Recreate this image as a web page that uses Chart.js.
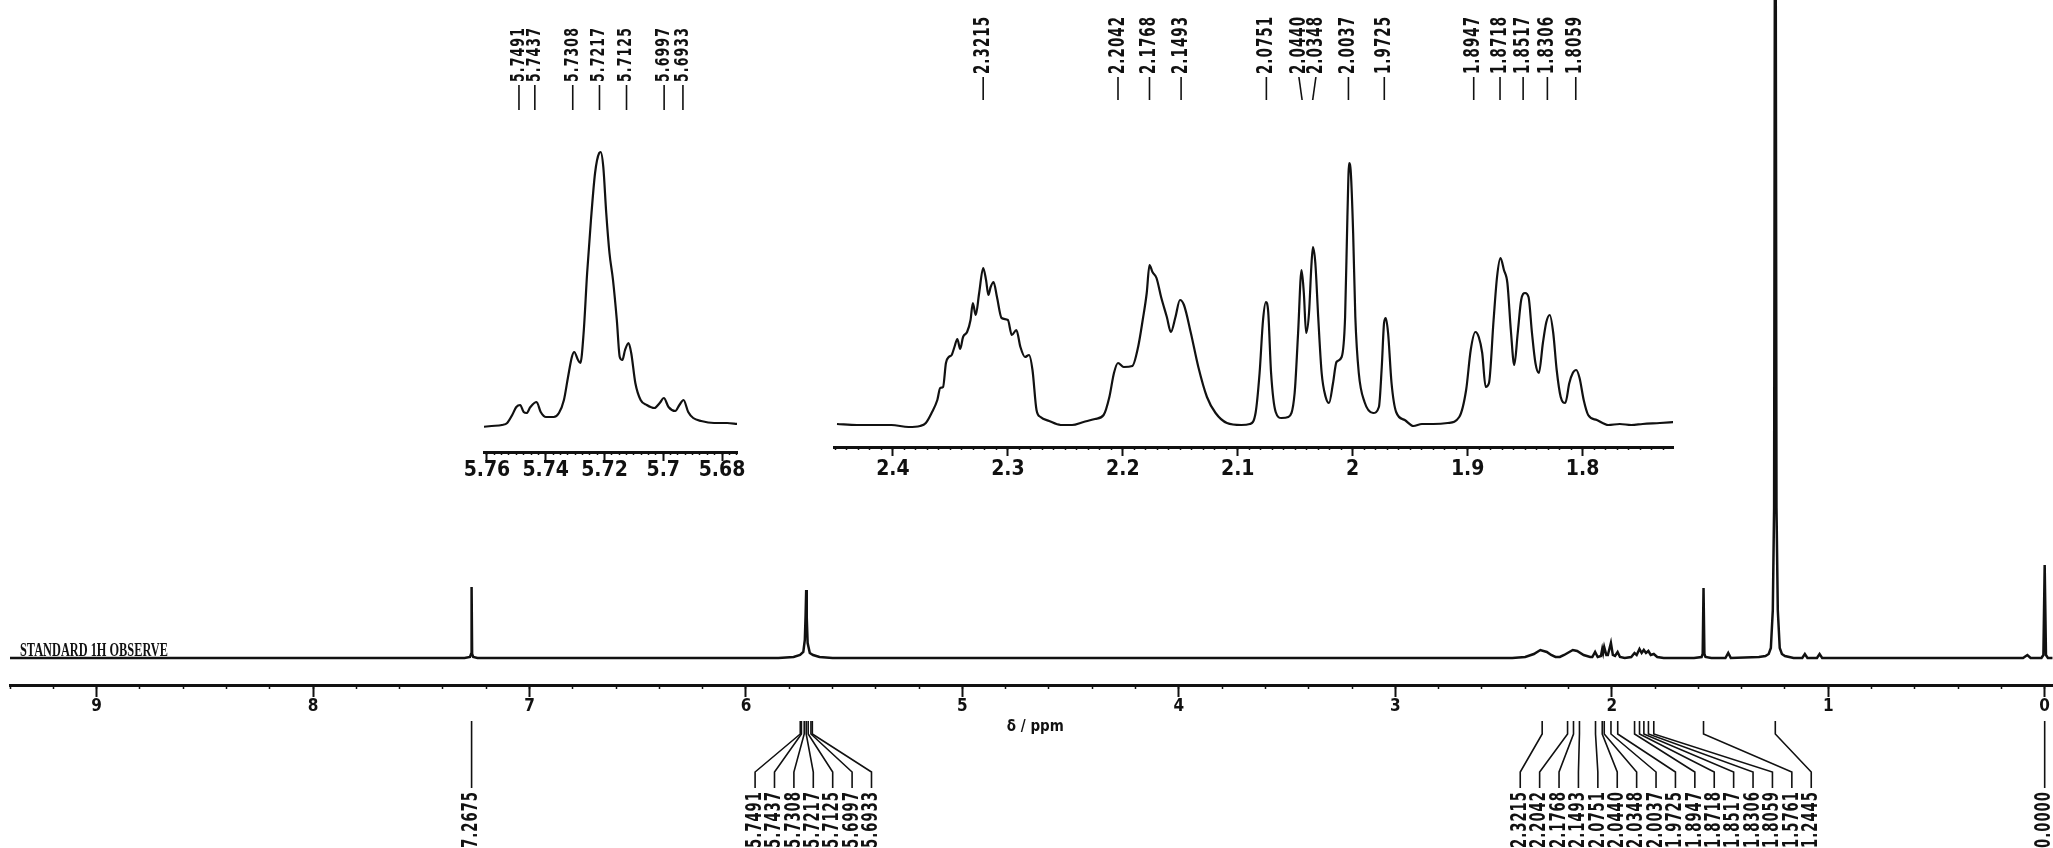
<!DOCTYPE html>
<html>
<head>
<meta charset="utf-8">
<title>1H NMR</title>
<script src="https://cdn.jsdelivr.net/npm/chart.js@4.4.0/dist/chart.umd.min.js"></script>
<style>
  html, body { margin: 0; padding: 0; background: #fff; }
  #page { position: relative; width: 2053px; height: 848px; overflow: hidden; background: #fff; }
  #page canvas { position: absolute; left: 0; top: 0; }
</style>
</head>
<body>
<div id="page">
  <canvas id="mainChart" width="2053" height="848"></canvas>
  <canvas id="vinylChart" width="2053" height="848"></canvas>
  <canvas id="aliphChart" width="2053" height="848"></canvas>
</div>
<script>
var INK = '#111';
var NARROW = "'Liberation Sans Narrow', 'DejaVu Sans Condensed', 'Arial Narrow', sans-serif";

// full spectrum, 9.4 .. 0 ppm (intensity read in pixels above the baseline)
var mainPpm = [9.40, 7.30, 7.275, 7.270, 7.2675, 7.265, 7.260, 7.24,
  5.85, 5.78, 5.75, 5.735, 5.728, 5.7245, 5.7217, 5.719, 5.715, 5.705, 5.69, 5.66, 5.60,
  2.46, 2.40, 2.36, 2.33, 2.30, 2.28, 2.26, 2.24, 2.22, 2.18,
  2.16, 2.13, 2.10, 2.09, 2.077, 2.065, 2.05, 2.044, 2.040, 2.035,
  2.025, 2.018, 2.004, 1.995, 1.985, 1.973, 1.962, 1.94, 1.91, 1.895,
  1.885, 1.872, 1.862, 1.852, 1.842, 1.831, 1.82, 1.806, 1.79, 1.76,
  1.62, 1.585, 1.580, 1.5761, 1.572, 1.567, 1.54,
  1.475, 1.462, 1.45,
  1.32, 1.29, 1.275, 1.265, 1.256, 1.25, 1.2445, 1.239, 1.233, 1.224, 1.214, 1.20, 1.16,
  1.12, 1.108, 1.096, 1.052, 1.040, 1.028,
  0.10, 0.08, 0.065, 0.015, 0.006, 0.000, -0.006, -0.015, -0.037];
var mainIntensity = [0, 0, 1, 4, 71, 4, 1, 0,
  0, 1, 3, 6, 18, 42, 68, 40, 15, 5, 3, 1, 0,
  0, 1, 4, 8, 6, 3, 1, 1, 3, 8,
  7, 3, 1, 1, 6, 1, 2, 9, 5, 11,
  3, 3, 15, 3, 2, 6, 1, 0, 1, 5,
  3, 9, 5, 8, 5, 7, 3, 4, 1, 0,
  0, 1, 4, 70, 4, 1, 0,
  0, 5, 0,
  1, 2, 4, 10, 48, 150, 1000, 150, 48, 10, 4, 2, 0,
  0, 4, 0, 0, 4, 0,
  0, 3, 0, 0, 3, 93, 3, 0, 0];
var mainTickLabels = ['9', '8', '7', '6', '5', '4', '3', '2', '1', '0'];
var mainPeakLabels = ['7.2675', '5.7491', '5.7437', '5.7308', '5.7217', '5.7125', '5.6997', '5.6933',
  '2.3215', '2.2042', '2.1768', '2.1493', '2.0751', '2.0440', '2.0348', '2.0037', '1.9725',
  '1.8947', '1.8718', '1.8517', '1.8306', '1.8059', '1.5761', '1.2445', '0.0000'];

// expansion 5.76 .. 5.68 ppm
var vinylPpm = [5.7619, 5.7584, 5.7549, 5.7531, 5.7514, 5.7500, 5.7487, 5.7475, 5.7465, 5.7452,
  5.7431, 5.7417, 5.7399, 5.7373, 5.7355, 5.7338, 5.7324, 5.7311, 5.7303, 5.7290,
  5.7282, 5.7271, 5.7259, 5.7246, 5.7232, 5.7218, 5.7213, 5.7204, 5.7194, 5.7183,
  5.7171, 5.7158, 5.7148, 5.7139, 5.7130, 5.7118, 5.7109, 5.7095, 5.7077, 5.7056,
  5.7030, 5.7012, 5.6998, 5.6982, 5.6959, 5.6945, 5.6931, 5.6915, 5.6898, 5.6871,
  5.6827, 5.6783, 5.6748];
var vinylIntensity = [-2, -1, 0, 2, 10, 18, 20, 13, 12, 18,
  23, 13, 8, 8, 12, 25, 48, 68, 73, 65,
  62, 92, 152, 205, 252, 272, 273, 258, 212, 172,
  145, 105, 68, 65, 75, 82, 72, 42, 25, 20,
  17, 22, 27, 18, 14, 20, 25, 13, 7, 4,
  2, 2, 1];
var vinylTickLabels = ['5.76', '5.74', '5.72', '5.7', '5.68'];
var vinylPeakLabels = ['5.7491', '5.7437', '5.7308', '5.7217', '5.7125', '5.6997', '5.6933'];

// expansion 2.45 .. 1.72 ppm
var aliphPpm = [2.4487, 2.4313, 2.4163, 2.4013, 2.3864, 2.3764, 2.3714, 2.3664, 2.3614, 2.3589,
  2.3564, 2.3539, 2.3514, 2.3489, 2.3465, 2.3440, 2.3415, 2.3390, 2.3355, 2.3325,
  2.3305, 2.3280, 2.3250, 2.3215, 2.3190, 2.3170, 2.3150, 2.3125, 2.3095, 2.3055,
  2.3000, 2.2966, 2.2926, 2.2891, 2.2851, 2.2816, 2.2786, 2.2751, 2.2716, 2.2641,
  2.2541, 2.2442, 2.2342, 2.2242, 2.2167, 2.2117, 2.2077, 2.2042, 2.1992, 2.1917,
  2.1867, 2.1827, 2.1792, 2.1768, 2.1742, 2.1707, 2.1667, 2.1617, 2.1582, 2.1542,
  2.1503, 2.1468, 2.1408, 2.1343, 2.1268, 2.1193, 2.1094, 2.0969, 2.0895, 2.0845,
  2.0810, 2.0780, 2.0755, 2.0735, 2.0710, 2.0670, 2.0620, 2.0560, 2.0505, 2.0475,
  2.0445, 2.0425, 2.0405, 2.0380, 2.0360, 2.0346, 2.0325, 2.0300, 2.0270, 2.0235,
  2.0206, 2.0171, 2.0141, 2.0096, 2.0066, 2.0046, 2.0031, 2.0016, 1.9996, 1.9977,
  1.9947, 1.9897, 1.9822, 1.9772, 1.9747, 1.9727, 1.9712, 1.9692, 1.9662, 1.9622,
  1.9547, 1.9472, 1.9398, 1.9298, 1.9173, 1.9073, 1.9013, 1.8973, 1.8933, 1.8903,
  1.8873, 1.8843, 1.8814, 1.8774, 1.8744, 1.8714, 1.8684, 1.8654, 1.8624, 1.8594,
  1.8564, 1.8534, 1.8500, 1.8470, 1.8440, 1.8410, 1.8380, 1.8345, 1.8315, 1.8285,
  1.8255, 1.8225, 1.8190, 1.8150, 1.8115, 1.8085, 1.8055, 1.8026, 1.7990, 1.7951,
  1.7876, 1.7776, 1.7676, 1.7576, 1.7477, 1.7327, 1.7202];
var aliphIntensity = [0, -1, -1, -1, -3, -2, 1, 11, 24, 36,
  37, 61, 67, 69, 77, 85, 75, 87, 92, 104,
  121, 109, 131, 156, 144, 129, 137, 142, 127, 106,
  104, 89, 94, 77, 67, 69, 54, 14, 7, 3,
  -1, -1, 2, 5, 9, 27, 51, 61, 57, 58,
  77, 104, 131, 159, 152, 146, 127, 107, 92, 107,
  124, 119, 91, 57, 27, 11, 1, -1, 0, 11,
  51, 104, 122, 112, 51, 12, 6, 7, 31, 91,
  154, 131, 91, 111, 157, 177, 161, 107, 51, 27,
  21, 41, 62, 67, 107, 207, 261, 251, 191, 107,
  51, 22, 11, 17, 57, 101, 106, 91, 41, 12,
  4, -2, 0, 0, 1, 7, 34, 74, 92, 87,
  71, 37, 41, 104, 147, 166, 154, 141, 94, 59,
  91, 124, 131, 127, 91, 61, 51, 81, 102, 109,
  91, 54, 27, 21, 41, 51, 54, 46, 24, 9,
  4, -1, 0, -1, 0, 1, 2];
var aliphTickLabels = ['2.4', '2.3', '2.2', '2.1', '2', '1.9', '1.8'];
var aliphPeakLabels = ['2.3215', '2.2042', '2.1768', '2.1493', '2.0751', '2.0440', '2.0348',
  '2.0037', '1.9725', '1.8947', '1.8718', '1.8517', '1.8306', '1.8059'];

var captionText = 'STANDARD 1H OBSERVE';
var axisTitle = 'δ / ppm';

function toPoints(xs, ys) {
  return xs.map(function (x, i) { return {x: x, y: ys[i]}; });
}

function stepValues(from, to, step) {
  var out = [];
  var n = Math.round((to - from) / step);
  for (var i = 0; i <= n; i++) out.push(+(from + i * step).toFixed(5));
  return out;
}

function labelFor(labels, v) {
  for (var i = 0; i < labels.length; i++) {
    if (Math.abs(parseFloat(labels[i]) - v) < 1e-6) return labels[i];
  }
  return '';
}

// labels closer than gap are pushed apart, each crowd centred on its outer peaks
function spreadLabels(px, gap, shift) {
  var groups = px.map(function (p, i) { return {first: i, last: i}; });
  function centre(g) { return (px[g.first] + px[g.last]) / 2 + (g.last > g.first ? shift : 0); }
  function start(g) { return centre(g) - (g.last - g.first) * gap / 2; }
  function end(g) { return centre(g) + (g.last - g.first) * gap / 2; }
  var merged = true;
  while (merged) {
    merged = false;
    for (var i = 0; i + 1 < groups.length; i++) {
      if (start(groups[i + 1]) - end(groups[i]) < gap) {
        groups.splice(i, 2, {first: groups[i].first, last: groups[i + 1].last});
        merged = true;
        break;
      }
    }
  }
  var out = [];
  groups.forEach(function (g) {
    for (var k = g.first; k <= g.last; k++) out.push(start(g) + (k - g.first) * gap);
  });
  return out;
}

function ppmAxes(o) {
  return {
    x: {
      type: 'linear', axis: 'x', reverse: true, min: o.min, max: o.max,
      position: {y: o.at},
      border: {display: true, color: INK, width: o.axisWidth},
      grid: {drawOnChartArea: false, drawTicks: true, tickLength: o.majorLen, tickWidth: 2, tickColor: INK},
      ticks: {
        autoSkip: false, maxRotation: 0, padding: o.pad, color: INK,
        font: {family: NARROW, size: o.fontSize, weight: 'bold', lineHeight: 1},
        callback: function (v) { return labelFor(o.labels, v); }
      },
      afterBuildTicks: function (s) {
        s.ticks = o.labels.map(function (t) { return {value: parseFloat(t)}; });
      }
    },
    xMinor: {
      type: 'linear', axis: 'x', reverse: true, min: o.min, max: o.max,
      position: {y: o.at},
      border: {display: false},
      grid: {drawOnChartArea: false, drawTicks: true, tickLength: o.minorLen, tickWidth: 1.5, tickColor: INK},
      ticks: {display: false},
      afterBuildTicks: function (s) {
        s.ticks = o.minor.map(function (v) { return {value: v}; });
      }
    },
    y: {display: false, min: o.yMin, max: o.yMax}
  };
}

var peakMarks = {
  id: 'peakMarks',
  afterDatasetsDraw: function (chart, args, o) {
    var ctx = chart.ctx;
    var scale = chart.scales.x;
    var px = o.labels.map(function (t) { return scale.getPixelForValue(parseFloat(t)); });
    var tx = spreadLabels(px, o.gap, o.shift);
    ctx.save();
    ctx.strokeStyle = INK;
    ctx.fillStyle = INK;
    ctx.lineWidth = 1.6;
    ctx.font = 'bold ' + o.fontSize + 'px ' + NARROW;
    ctx.letterSpacing = o.spacing + 'px';
    o.labels.forEach(function (t, i) {
      ctx.beginPath();
      if (o.side === 'top') {
        ctx.moveTo(tx[i], o.textEdge + 3);
        ctx.lineTo(px[i], o.lineEnd);
      } else {
        ctx.moveTo(px[i], o.lineEnd);
        ctx.lineTo(px[i], o.bendA);
        ctx.lineTo(tx[i], o.bendB);
        ctx.lineTo(tx[i], o.textEdge - 3);
      }
      ctx.stroke();
      // condensed print: squeeze each label to the printed length
      var w = ctx.measureText(t).width;
      ctx.save();
      ctx.translate(tx[i], o.textEdge);
      ctx.rotate(-Math.PI / 2);
      ctx.scale(o.textLength / w, 1);
      ctx.textBaseline = 'middle';
      ctx.textAlign = o.side === 'top' ? 'left' : 'right';
      ctx.fillText(t, 0, 0);
      ctx.restore();
    });
    ctx.restore();
  }
};

var captions = {
  id: 'captions',
  afterDraw: function (chart) {
    var ctx = chart.ctx;
    var area = chart.chartArea;
    ctx.save();
    ctx.fillStyle = INK;
    ctx.textBaseline = 'middle';
    ctx.font = "bold 18px 'Liberation Serif', 'DejaVu Serif', serif";
    var w = ctx.measureText(captionText).width;
    ctx.translate(20, 651);
    ctx.scale(148 / w, 1);
    ctx.fillText(captionText, 0, 0);
    ctx.restore();
    ctx.save();
    ctx.fillStyle = INK;
    ctx.textBaseline = 'middle';
    ctx.textAlign = 'center';
    ctx.font = 'bold 15px ' + NARROW;
    ctx.fillText(axisTitle, (area.left + area.right) / 2 + 4, 727);
    ctx.restore();
  }
};

function spectrumDataset(xs, ys, width, smooth) {
  return {
    data: toPoints(xs, ys),
    borderColor: INK,
    borderWidth: width,
    pointRadius: 0,
    fill: false,
    tension: 0,
    cubicInterpolationMode: smooth ? 'monotone' : 'default'
  };
}

function baseOptions(padding, scales, plugins) {
  return {
    responsive: false,
    devicePixelRatio: 1,
    animation: false,
    events: [],
    layout: {padding: padding},
    scales: scales,
    plugins: Object.assign({legend: {display: false}, tooltip: {enabled: false}, title: {display: false}}, plugins)
  };
}

// full spectrum
new Chart(document.getElementById('mainChart'), {
  type: 'line',
  data: {datasets: [spectrumDataset(mainPpm, mainIntensity, 2.5, false)]},
  options: baseOptions({left: 10, right: 0, top: 0, bottom: 0},
    ppmAxes({min: -0.037, max: 9.40, at: -27, yMin: -190, yMax: 658, axisWidth: 3,
      majorLen: 10, minorLen: 4, pad: 3, fontSize: 17,
      labels: mainTickLabels, minor: stepValues(0, 9.4, 0.2)}),
    {peakMarks: {labels: mainPeakLabels, side: 'bottom', gap: 19.4, shift: 7, fontSize: 22, spacing: 1.5,
      textLength: 57, lineEnd: 721, bendA: 734, bendB: 772, textEdge: 791}}),
  plugins: [peakMarks, captions]
});

// 5.7 ppm expansion
new Chart(document.getElementById('vinylChart'), {
  type: 'line',
  data: {datasets: [spectrumDataset(vinylPpm, vinylIntensity, 2.2, true)]},
  options: baseOptions({left: 484, right: 1316, top: 100, bottom: 396},
    ppmAxes({min: 5.6749, max: 5.7610, at: -27, yMin: -27, yMax: 325, axisWidth: 3,
      majorLen: 7, minorLen: 3, pad: 1, fontSize: 21,
      labels: vinylTickLabels, minor: stepValues(5.675, 5.76, 0.0025)}),
    {peakMarks: {labels: vinylPeakLabels, side: 'top', gap: 15, shift: 0, fontSize: 19, spacing: 1.5,
      textLength: 55, textEdge: 82, lineEnd: 110}}),
  plugins: [peakMarks]
});

// 2 ppm expansion
new Chart(document.getElementById('aliphChart'), {
  type: 'line',
  data: {datasets: [spectrumDataset(aliphPpm, aliphIntensity, 2.2, true)]},
  options: baseOptions({left: 834, right: 380, top: 100, bottom: 401},
    ppmAxes({min: 1.7213, max: 2.4513, at: -23, yMin: -23, yMax: 324, axisWidth: 3,
      majorLen: 7, minorLen: 3, pad: 5, fontSize: 21,
      labels: aliphTickLabels, minor: stepValues(1.73, 2.45, 0.01)}),
    {peakMarks: {labels: aliphPeakLabels, side: 'top', gap: 17, shift: 0, fontSize: 22, spacing: 1.5,
      textLength: 58, textEdge: 74, lineEnd: 100}}),
  plugins: [peakMarks]
});
</script>
</body>
</html>
